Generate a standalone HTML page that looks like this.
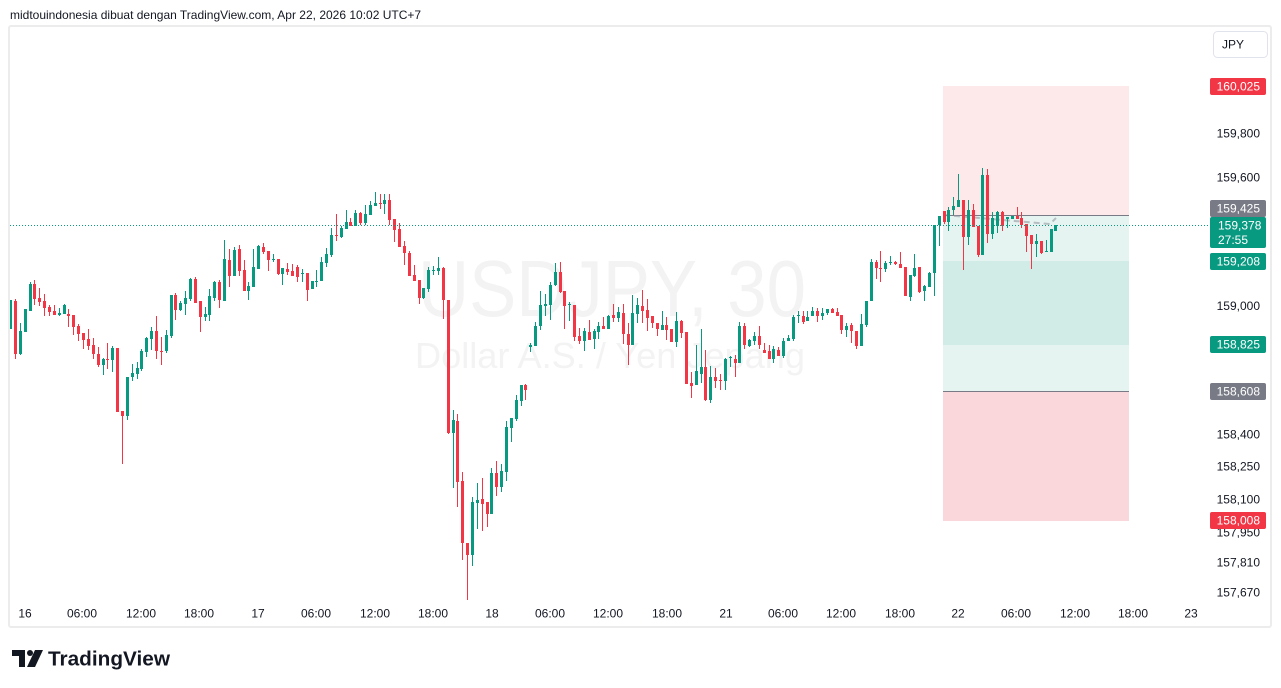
<!DOCTYPE html>
<html><head><meta charset="utf-8"><style>
html,body{margin:0;padding:0;background:#fff;width:1281px;height:688px;overflow:hidden}
svg{display:block}
text{font-family:"Liberation Sans",sans-serif}
</style></head><body>
<svg width="1281" height="688" viewBox="0 0 1281 688" xmlns="http://www.w3.org/2000/svg">
<rect width="1281" height="688" fill="#fff"/>
<text x="10" y="19" font-size="12" fill="#131722">midtouindonesia dibuat dengan TradingView.com, Apr 22, 2026 10:02 UTC+7</text>

<!-- watermark -->
<text x="418" y="316" font-size="80" fill="#f3f3f4" textLength="388" lengthAdjust="spacingAndGlyphs">USDJPY, 30</text>
<text x="415" y="368" font-size="36" fill="#f3f3f4" textLength="390" lengthAdjust="spacingAndGlyphs">Dollar A.S. / Yen Jepang</text>

<!-- position tools -->
<rect x="943" y="86" width="186" height="129" fill="#fde9ea"/>
<rect x="943" y="215" width="186" height="176" fill="#e5f4f1"/>
<rect x="943" y="261" width="186" height="84" fill="#d1ece6"/>
<rect x="943" y="391" width="186" height="130" fill="#fad7da"/>
<path d="M943 215.5H1129M943 391.5H1129" stroke="#787b86" stroke-width="1"/>
<path d="M944 215L1050 224L1056 218" fill="none" stroke="#9598a1" stroke-width="2" stroke-dasharray="6 4" opacity="0.6"/>

<!-- green wicks -->
<path fill="none" stroke="#089981" stroke-width="1" d="M10.5 300V329M20.5 323V355M25.5 309V332M30.5 282V311M59.5 308V316M64.5 304V314M103.5 358V375M112.5 346V372M127.5 377V420M132.5 364V381M137.5 362V379M141.5 349V371M146.5 337V357M151.5 327V350M166.5 330V353M171.5 295V338M180.5 301V311M185.5 291V315M190.5 278V301M205.5 307V321M209.5 289V321M214.5 281V301M224.5 240V301M234.5 247V276M248.5 282V300M253.5 249V287M258.5 245V269M273.5 254V262M282.5 268V285M302.5 269V282M312.5 281V289M316.5 270V287M321.5 257V281M326.5 248V267M331.5 228V257M341.5 226V238M346.5 210V229M355.5 210V226M365.5 205V225M370.5 201V215M375.5 192V206M384.5 194V214M423.5 288V299M428.5 267V292M433.5 266V275M438.5 257V275M453.5 410V488M472.5 497V566M477.5 483V529M491.5 468V514M501.5 464V492M506.5 421V481M511.5 418V442M516.5 395V421M521.5 385V406M530.5 343V352M535.5 322V346M540.5 291V330M545.5 294V316M550.5 282V320M555.5 263V286M569.5 302V321M584.5 328V351M594.5 329V349M598.5 322V339M608.5 315V329M618.5 307V322M632.5 295V345M637.5 298V323M662.5 311V330M676.5 312V347M696.5 345V385M701.5 329V383M710.5 366V403M725.5 358V390M730.5 356V367M739.5 322V363M749.5 339V347M754.5 332V345M773.5 346V363M783.5 338V358M788.5 335V341M793.5 315V341M798.5 311V323M807.5 311V321M812.5 307V316M822.5 308V320M827.5 309V315M846.5 323V337M861.5 314V346M866.5 301V327M871.5 259V301M885.5 261V272M890.5 256V265M910.5 275V301M914.5 254V277M924.5 285V301M929.5 272V287M934.5 225V296M939.5 216V246M948.5 207V231M953.5 197V215M958.5 174V207M968.5 200V245M982.5 168V255M992.5 212V239M997.5 211V233M1007.5 217V228M1012.5 216V219M1036.5 234V257M1046.5 240V252M1051.5 229V252M1055.5 225V231"/>
<!-- green bodies -->
<path fill="#089981" d="M9 300h3V329h-3zM19 331h3V354h-3zM24 309h3V332h-3zM29 284h3V311h-3zM58 313h3V315h-3zM63 305h3V314h-3zM102 359h3V365h-3zM111 348h3V360h-3zM126 377h3V416h-3zM131 373h3V377h-3zM136 368h3V374h-3zM140 351h3V369h-3zM145 338h3V352h-3zM150 331h3V339h-3zM165 335h3V351h-3zM170 295h3V336h-3zM179 303h3V310h-3zM184 298h3V304h-3zM189 279h3V299h-3zM204 314h3V317h-3zM208 296h3V315h-3zM213 282h3V298h-3zM223 259h3V301h-3zM233 250h3V276h-3zM247 286h3V291h-3zM252 267h3V287h-3zM257 246h3V269h-3zM272 259h3V260h-3zM281 268h3V274h-3zM301 273h3V274h-3zM311 281h3V289h-3zM315 281h3V282h-3zM320 262h3V281h-3zM325 254h3V263h-3zM330 235h3V255h-3zM340 228h3V237h-3zM345 222h3V229h-3zM354 213h3V226h-3zM364 214h3V223h-3zM369 205h3V215h-3zM374 203h3V206h-3zM383 200h3V204h-3zM422 288h3V298h-3zM427 270h3V289h-3zM432 270h3V271h-3zM437 268h3V271h-3zM452 420h3V433h-3zM471 502h3V555h-3zM476 500h3V503h-3zM490 473h3V514h-3zM500 471h3V487h-3zM505 427h3V472h-3zM510 418h3V428h-3zM515 400h3V419h-3zM520 385h3V401h-3zM529 345h3V347h-3zM534 326h3V346h-3zM539 305h3V326h-3zM544 304h3V306h-3zM549 285h3V305h-3zM554 272h3V285h-3zM568 304h3V305h-3zM583 331h3V341h-3zM593 331h3V339h-3zM597 326h3V332h-3zM607 316h3V329h-3zM617 312h3V318h-3zM631 313h3V345h-3zM636 305h3V314h-3zM661 325h3V330h-3zM675 321h3V342h-3zM695 371h3V385h-3zM700 367h3V374h-3zM709 377h3V400h-3zM724 359h3V381h-3zM729 357h3V358h-3zM738 326h3V363h-3zM748 340h3V346h-3zM753 336h3V341h-3zM772 349h3V359h-3zM782 341h3V356h-3zM787 338h3V341h-3zM792 317h3V339h-3zM797 315h3V316h-3zM806 317h3V321h-3zM811 311h3V316h-3zM821 313h3V316h-3zM826 309h3V313h-3zM845 326h3V330h-3zM860 324h3V346h-3zM865 301h3V325h-3zM870 262h3V301h-3zM884 263h3V269h-3zM889 262h3V263h-3zM909 275h3V297h-3zM913 268h3V276h-3zM923 286h3V291h-3zM928 273h3V287h-3zM933 225h3V273h-3zM938 216h3V225h-3zM947 210h3V222h-3zM952 206h3V210h-3zM957 200h3V207h-3zM967 210h3V237h-3zM981 175h3V255h-3zM991 218h3V234h-3zM996 212h3V226h-3zM1006 217h3V219h-3zM1011 216h3V219h-3zM1035 241h3V244h-3zM1045 251h3V252h-3zM1050 229h3V252h-3zM1054 225h3V231h-3z"/>
<!-- red wicks -->
<path fill="none" stroke="#f23645" stroke-width="1" d="M15.5 299V359M34.5 280V305M39.5 288V306M44.5 294V316M49.5 305V316M54.5 305V315M68.5 309V327M73.5 315V335M78.5 324V341M83.5 333V349M88.5 329V350M93.5 338V359M98.5 347V367M107.5 343V369M117.5 348V412M122.5 411V464M156.5 316V359M161.5 337V365M175.5 293V320M195.5 277V303M200.5 301V332M219.5 280V308M229.5 249V287M239.5 245V276M244.5 260V291M263.5 243V254M268.5 251V271M278.5 259V275M287.5 263V275M292.5 264V276M297.5 265V282M307.5 273V301M336.5 214V241M350.5 218V226M360.5 212V225M380.5 194V209M389.5 194V225M394.5 219V242M399.5 223V247M404.5 241V265M409.5 251V276M414.5 265V281M419.5 280V304M443.5 267V319M448.5 300V434M457.5 414V507M462.5 472V560M467.5 543V600M482.5 478V531M487.5 502V527M496.5 461V496M525.5 384V400M560.5 262V293M564.5 291V329M574.5 305V341M579.5 328V344M589.5 320V340M603.5 317V329M613.5 304V322M623.5 304V344M628.5 323V365M642.5 290V323M647.5 299V331M652.5 316V328M657.5 323V336M666.5 317V340M671.5 329V342M681.5 320V338M686.5 332V384M691.5 372V398M705.5 350V401M715.5 368V388M720.5 374V390M735.5 355V377M744.5 323V349M759.5 326V349M764.5 343V353M769.5 345V359M778.5 347V356M803.5 311V324M817.5 308V322M832.5 308V313M837.5 308V316M841.5 315V334M851.5 323V343M856.5 331V349M876.5 260V279M880.5 251V282M895.5 261V265M900.5 252V268M905.5 267V296M919.5 267V293M944.5 211V224M963.5 200V270M973.5 204V227M978.5 226V257M987.5 169V243M1002.5 211V231M1017.5 207V219M1021.5 212V228M1026.5 224V252M1031.5 235V269M1041.5 241V254"/>
<!-- red bodies -->
<path fill="#f23645" d="M14 301h3V354h-3zM33 284h3V299h-3zM38 298h3V302h-3zM43 301h3V308h-3zM48 307h3V312h-3zM53 311h3V315h-3zM67 314h3V316h-3zM72 315h3V327h-3zM77 326h3V334h-3zM82 333h3V340h-3zM87 339h3V346h-3zM92 345h3V354h-3zM97 354h3V365h-3zM106 359h3V360h-3zM116 348h3V412h-3zM121 411h3V416h-3zM155 331h3V351h-3zM160 351h3V352h-3zM174 295h3V310h-3zM194 279h3V303h-3zM199 301h3V317h-3zM218 282h3V300h-3zM228 260h3V276h-3zM238 249h3V271h-3zM243 270h3V291h-3zM262 247h3V252h-3zM267 251h3V260h-3zM277 259h3V274h-3zM286 269h3V272h-3zM291 271h3V276h-3zM296 267h3V277h-3zM306 273h3V290h-3zM335 235h3V236h-3zM349 222h3V226h-3zM359 213h3V223h-3zM379 203h3V204h-3zM388 200h3V220h-3zM393 219h3V230h-3zM398 229h3V247h-3zM403 246h3V253h-3zM408 253h3V276h-3zM413 275h3V281h-3zM418 280h3V298h-3zM442 268h3V300h-3zM447 300h3V433h-3zM456 421h3V482h-3zM461 481h3V543h-3zM466 543h3V555h-3zM481 499h3V504h-3zM486 502h3V514h-3zM495 473h3V487h-3zM524 385h3V390h-3zM559 272h3V292h-3zM563 291h3V306h-3zM573 305h3V337h-3zM578 336h3V341h-3zM588 332h3V340h-3zM602 326h3V329h-3zM612 315h3V318h-3zM622 313h3V334h-3zM627 334h3V345h-3zM641 306h3V311h-3zM646 310h3V318h-3zM651 316h3V323h-3zM656 323h3V329h-3zM665 325h3V330h-3zM670 329h3V342h-3zM680 321h3V333h-3zM685 332h3V384h-3zM690 383h3V386h-3zM704 367h3V400h-3zM714 377h3V381h-3zM719 380h3V381h-3zM734 359h3V363h-3zM743 326h3V345h-3zM758 336h3V345h-3zM763 350h3V353h-3zM768 351h3V359h-3zM777 350h3V356h-3zM802 316h3V322h-3zM816 311h3V316h-3zM831 309h3V313h-3zM836 312h3V316h-3zM840 315h3V330h-3zM850 325h3V331h-3zM855 331h3V346h-3zM875 262h3V268h-3zM879 268h3V269h-3zM894 262h3V264h-3zM899 264h3V268h-3zM904 267h3V296h-3zM918 267h3V292h-3zM943 211h3V222h-3zM962 200h3V237h-3zM972 210h3V227h-3zM977 226h3V255h-3zM986 175h3V234h-3zM1001 212h3V226h-3zM1016 216h3V219h-3zM1020 218h3V225h-3zM1025 224h3V236h-3zM1030 235h3V244h-3zM1040 241h3V253h-3z"/>

<!-- current price dotted line -->
<path d="M10 225.5H1210" stroke="#089981" stroke-width="1" stroke-dasharray="1 2"/>

<!-- frame -->
<rect x="9" y="26" width="1262" height="601" fill="none" stroke="#ececec" stroke-width="2" rx="2"/>

<!-- price axis -->
<rect x="1213.5" y="31.5" width="54" height="26" rx="4" fill="#fff" stroke="#e0e3eb"/>
<text x="1222" y="48.5" font-size="12" fill="#131722">JPY</text>
<g font-size="12" fill="#131722" text-anchor="end">
<text x="1260" y="137.5">159,800</text>
<text x="1260" y="181.5">159,600</text>
<text x="1260" y="310">159,000</text>
<text x="1260" y="438.5">158,400</text>
<text x="1260" y="470.5">158,250</text>
<text x="1260" y="503.5">158,100</text>
<text x="1260" y="536.5">157,950</text>
<text x="1260" y="566.5">157,810</text>
<text x="1260" y="596.5">157,670</text>
</g>
<rect x="1210" y="78" width="56" height="17" rx="2" fill="#f23645"/>
<rect x="1210" y="200" width="56" height="17" rx="2" fill="#787b86"/>
<rect x="1210" y="217" width="56" height="31" rx="2" fill="#089981"/>
<rect x="1210" y="253" width="56" height="17" rx="2" fill="#089981"/>
<rect x="1210" y="336" width="56" height="17" rx="2" fill="#089981"/>
<rect x="1210" y="383" width="56" height="17" rx="2" fill="#787b86"/>
<rect x="1210" y="512" width="56" height="17" rx="2" fill="#f23645"/>
<g font-size="12" fill="#fff">
<text x="1260" y="90.5" text-anchor="end">160,025</text>
<text x="1260" y="212.5" text-anchor="end">159,425</text>
<text x="1218" y="229.5">159,378</text>
<text x="1218" y="244">27:55</text>
<text x="1260" y="265.5" text-anchor="end">159,208</text>
<text x="1260" y="348.5" text-anchor="end">158,825</text>
<text x="1260" y="395.5" text-anchor="end">158,608</text>
<text x="1260" y="524.5" text-anchor="end">158,008</text>
</g>

<!-- time axis -->
<g font-size="12" fill="#131722" text-anchor="middle">
<text x="25" y="617.5">16</text>
<text x="82" y="617.5">06:00</text>
<text x="141" y="617.5">12:00</text>
<text x="199" y="617.5">18:00</text>
<text x="258" y="617.5">17</text>
<text x="316" y="617.5">06:00</text>
<text x="375" y="617.5">12:00</text>
<text x="433" y="617.5">18:00</text>
<text x="492" y="617.5">18</text>
<text x="550" y="617.5">06:00</text>
<text x="608" y="617.5">12:00</text>
<text x="667" y="617.5">18:00</text>
<text x="726" y="617.5">21</text>
<text x="783" y="617.5">06:00</text>
<text x="841" y="617.5">12:00</text>
<text x="900" y="617.5">18:00</text>
<text x="958" y="617.5">22</text>
<text x="1016" y="617.5">06:00</text>
<text x="1075" y="617.5">12:00</text>
<text x="1133" y="617.5">18:00</text>
<text x="1191" y="617.5">23</text>
</g>

<!-- logo -->
<g fill="#131722">
<path d="M12 650h13v17h-6v-11h-7z"/>
<circle cx="30" cy="653" r="3"/>
<path d="M35 650h8l-8 17h-8z"/>
<text x="48" y="665.5" font-size="20.5" font-weight="bold" textLength="122" lengthAdjust="spacingAndGlyphs">TradingView</text>
</g>
</svg>
</body></html>
